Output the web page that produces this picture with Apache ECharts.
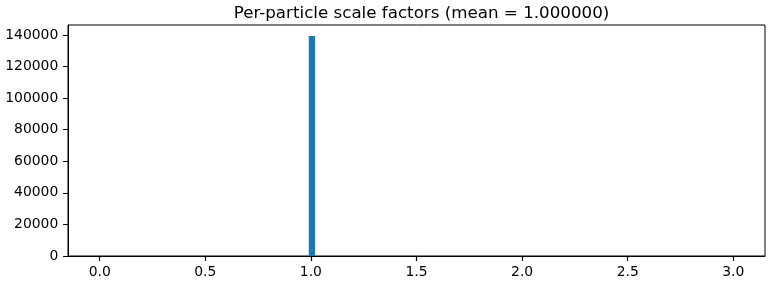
<!DOCTYPE html>
<html>
<head>
<meta charset="utf-8">
<script src="https://cdn.jsdelivr.net/npm/echarts@6/dist/echarts.min.js"></script>
<style>html,body{margin:0;padding:0;background:#fff}#c{width:770px;height:285px}</style>
</head>
<body>
<div id="c"></div>
<script>
// Histogram data (only one non-empty bin)
var binStart = [0.99];
var binEnd = [1.02];
var counts = [139400];
var xTicks = [0.0, 0.5, 1.0, 1.5, 2.0, 2.5, 3.0];
var yTicks = [0, 20000, 40000, 60000, 80000, 100000, 120000, 140000];
var titleText = 'Per-particle scale factors (mean = 1.000000)';

var data = binStart.map(function (s, i) { return [s, binEnd[i], counts[i]]; });
var font = 'DejaVu Sans';
var chart = echarts.init(document.getElementById('c'), null, {renderer: 'canvas'});
chart.setOption({
  animation: false,
  backgroundColor: '#fff',
  title: {
    text: titleText,
    left: 416.5, textAlign: 'center', top: 0,
    textStyle: {fontFamily: font, fontSize: 16.7, fontWeight: 'normal', color: '#000'}
  },
  grid: {left: 68, right: 5, top: 25, bottom: 29, show: true, borderColor: '#000', borderWidth: 1, backgroundColor: 'transparent'},
  xAxis: {
    type: 'value', min: -0.15, max: 3.15,
    axisLine: {show: true, onZero: false, lineStyle: {color: '#000', width: 1}},
    axisTick: {show: true, length: 5, inside: false, lineStyle: {color: '#000', width: 1.2}, customValues: xTicks},
    axisLabel: {customValues: xTicks, margin: 9.7, color: '#000', fontFamily: font, fontSize: 13.9,
      formatter: function (v) { return v.toFixed(1); }},
    splitLine: {show: false}
  },
  yAxis: {
    type: 'value', min: 0, max: 146370,
    axisLine: {show: true, onZero: false, lineStyle: {color: '#000', width: 1}},
    axisTick: {show: true, length: 4.9, lineStyle: {color: '#000', width: 1}, customValues: yTicks},
    axisLabel: {customValues: yTicks, margin: 9.7, color: '#000', fontFamily: font, fontSize: 13.9,
      formatter: function (v) { return String(v); }},
    splitLine: {show: false}
  },
  series: [{
    type: 'custom',
    data: data,
    encode: {x: [0, 1], y: 2},
    renderItem: function (params, api) {
      var p0 = api.coord([api.value(0), 0]);
      var p1 = api.coord([api.value(1), api.value(2)]);
      return {
        type: 'rect',
        shape: {x: p0[0], y: p1[1], width: p1[0] - p0[0], height: p0[1] - p1[1]},
        style: {fill: '#1f77b4'}
      };
    }
  }]
});
</script>
</body>
</html>
